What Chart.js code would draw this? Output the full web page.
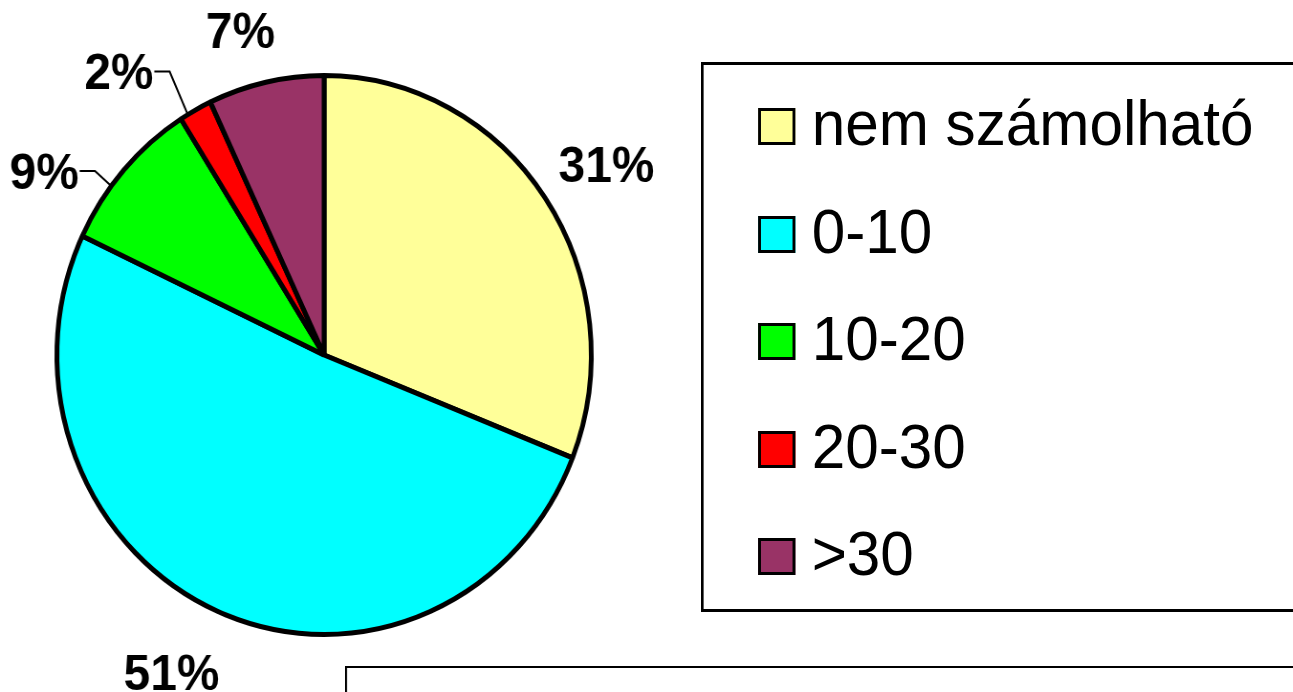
<!DOCTYPE html>
<html>
<head>
<meta charset="utf-8">
<script src="https://cdn.jsdelivr.net/npm/chart.js@4.4.1/dist/chart.umd.min.js"></script>
<style>
  body { margin: 0; background: #fff; overflow: hidden; }
  /* the original picture is a little squeezed sideways, so the whole sheet is drawn wider and squeezed back */
  #wrap { position: relative; width: 1353px; height: 692px; overflow: hidden; transform: scaleX(0.956); transform-origin: 0 0;
          font-family: "Liberation Sans", Arial, sans-serif; }
  #pie { position: absolute; left: 0; top: 0; }
  #legend { position: absolute; left: 733px; top: 62px; width: 700px; height: 544px; border: 3px solid #000; }
  #legend .row { position: absolute; left: 0; height: 63px; }
  #legend .box { position: absolute; left: 57px; top: 16px; width: 33px; height: 31px; border: 3px solid #000; }
  #legend .txt { position: absolute; left: 113px; top: 0; font-size: 63px; line-height: 63px; white-space: nowrap; color: #000; }
  #under { position: absolute; left: 361px; top: 666px; width: 1000px; height: 100px; border: 2px solid #000; }
</style>
</head>
<body>
<div id="wrap">
  <canvas id="pie" width="1353" height="692"></canvas>
  <div id="legend"></div>
  <div id="under"></div>
</div>
<script>
// share of each class, in percent
const classes = ['nem számolható', '0-10', '10-20', '20-30', '>30'];
const shares = [31, 51, 9, 2, 7];
const sliceColours = ['#FFFF99', '#00FFFF', '#00FF00', '#FF0000', '#993366'];

// plain labels: distance outside the rim, plus a small hand nudge like in the original
const labelGap = { 0: { gap: 68, dx: 8, dy: 9 }, 1: { gap: 72, dx: -20, dy: -1 }, 4: { gap: 53, dx: -15, dy: 4 } };
// labels pulled out with a leader line: where on the arc it starts, elbow offset, flat tail
const leaders = { 2: { at: 0.37, dx: -17, dy: -15, tail: 16 }, 3: { at: 0.24, dx: -19, dy: -43, tail: 16 } };

const pctLabels = {
  id: 'pctLabels',
  afterDatasetsDraw(chart) {
    const ctx = chart.ctx;
    const arcs = chart.getDatasetMeta(0).data;
    const total = shares.reduce((a, b) => a + b, 0);
    ctx.save();
    ctx.font = 'bold 50px "Liberation Sans", Arial, sans-serif';
    ctx.fillStyle = '#000';
    ctx.strokeStyle = '#000';
    ctx.lineWidth = 2;
    ctx.textBaseline = 'middle';
    arcs.forEach((arc, i) => {
      const p = arc.getProps(['x', 'y', 'startAngle', 'endAngle', 'outerRadius'], true);
      const txt = Math.round(shares[i] / total * 100) + '%';
      if (leaders[i]) {
        const l = leaders[i];
        const a = p.startAngle + (p.endAngle - p.startAngle) * l.at;
        const ax = p.x + Math.cos(a) * p.outerRadius;
        const ay = p.y + Math.sin(a) * p.outerRadius;
        const ex = ax + l.dx, ey = ay + l.dy;
        ctx.beginPath();
        ctx.moveTo(ax, ay);
        ctx.lineTo(ex, ey);
        ctx.lineTo(ex - l.tail, ey);
        ctx.stroke();
        ctx.textAlign = 'right';
        ctx.fillText(txt, ex - l.tail - 1, ey + 4);
      } else {
        const g = labelGap[i];
        const mid = (p.startAngle + p.endAngle) / 2;
        const r = p.outerRadius + g.gap;
        ctx.textAlign = 'center';
        ctx.fillText(txt, p.x + Math.cos(mid) * r + g.dx, p.y + Math.sin(mid) * r + g.dy);
      }
    });
    ctx.restore();
  }
};

const chart = new Chart(document.getElementById('pie'), {
  type: 'pie',
  data: {
    labels: classes,
    datasets: [{
      data: shares,
      backgroundColor: sliceColours,
      borderColor: '#000',
      borderWidth: 5
    }]
  },
  options: {
    responsive: false,
    animation: false,
    layout: { padding: { left: 57, top: 73, right: 732, bottom: 55 } },
    plugins: {
      legend: { display: false },
      tooltip: { enabled: false }
    }
  },
  plugins: [pctLabels]
});

// legend as html, items taken from the chart itself
const legendEl = document.getElementById('legend');
chart.options.plugins.legend.labels.generateLabels(chart).forEach((item, i) => {
  const row = document.createElement('div');
  row.className = 'row';
  row.style.top = (27 + i * 107.5) + 'px';
  const box = document.createElement('div');
  box.className = 'box';
  box.style.background = item.fillStyle;
  const txt = document.createElement('div');
  txt.className = 'txt';
  txt.textContent = item.text;
  row.appendChild(box);
  row.appendChild(txt);
  legendEl.appendChild(row);
});
</script>
</body>
</html>
